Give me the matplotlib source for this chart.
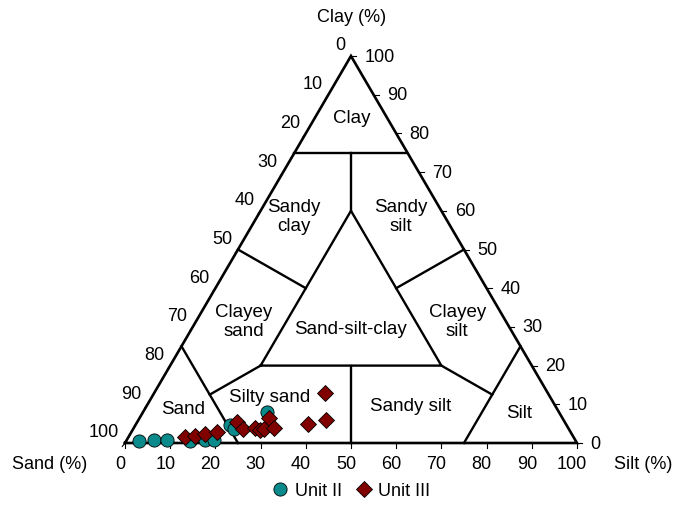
import numpy as np
import matplotlib
matplotlib.use("Agg")
import matplotlib.pyplot as plt
from matplotlib.lines import Line2D

plt.rcParams['font.family'] = ['Liberation Sans', 'DejaVu Sans']

# grain size composition (%), sand = 100 - silt - clay
unit2_silt = [2.8, 6.0, 8.9, 14.1, 17.3, 19.3, 20.9, 22.3, 27.4]
unit2_clay = [0.5, 0.8, 0.8, 0.5, 0.8, 0.8, 4.7, 3.6, 8.0]

unit3_silt = [12.5, 14.6, 16.6, 19.0, 22.1, 24.3, 26.8, 28.2, 29.0, 28.6, 31.0, 38.0, 41.5, 37.8]
unit3_clay = [1.6, 1.8, 2.3, 2.8, 5.4, 3.6, 3.9, 3.4, 3.6, 6.5, 3.9, 4.9, 5.9, 12.9]

tick_values = [0, 10, 20, 30, 40, 50, 60, 70, 80, 90, 100]

# class boundaries as (sand, silt, clay) end points
boundaries = [
    [(25, 0, 75), (0, 25, 75)],
    [(12.5, 12.5, 75), (20, 20, 60)],
    [(60, 20, 20), (20, 60, 20), (20, 20, 60), (60, 20, 20)],
    [(50, 0, 50), (40, 20, 40)],
    [(0, 50, 50), (20, 40, 40)],
    [(75, 0, 25), (75, 25, 0)],
    [(75, 12.5, 12.5), (60, 20, 20)],
    [(12.5, 75, 12.5), (20, 60, 20)],
    [(0, 75, 25), (25, 75, 0)],
    [(40, 40, 20), (50, 50, 0)],
]

class_names = ["Clay", "Sandy\nclay", "Sandy\nsilt", "Clayey\nsand", "Clayey\nsilt",
               "Sand-silt-clay", "Silty sand", "Sandy silt", "Silt", "Sand"]
class_pos = [(50.2, 84.0), (37.4, 58.7), (61.1, 58.7), (26.3, 31.5), (73.5, 31.5),
             (50.0, 29.7), (32.1, 12.1), (63.1, 9.8), (87.2, 8.0), (12.8, 8.8)]


def to_xy(silt, clay):
    silt = np.asarray(silt, dtype=float)
    clay = np.asarray(clay, dtype=float)
    return silt + clay / 2.0, clay


fig = plt.figure(figsize=(6.78, 5.06), dpi=100)
ax = fig.add_axes([0, 0, 1, 1])
ax.set_xlim(-27.65, 122.35)
ax.set_ylim(-16.02, 114.73)
ax.axis('off')

# triangle outline
ox, oy = to_xy([0, 100, 0, 0], [0, 0, 100, 0])
ax.plot(ox, oy, color='black', lw=1.9, solid_joinstyle='miter', zorder=2)

for seg in boundaries:
    bx, by = to_xy([p[1] for p in seg], [p[2] for p in seg])
    ax.plot(bx, by, color='black', lw=1.7, solid_joinstyle='miter', zorder=2)

for name, (tx, ty) in zip(class_names, class_pos):
    ax.text(tx, ty, name, ha='center', va='center', fontsize=13.5, linespacing=1.12)

fs = 13
# bottom axis: silt
for v in tick_values:
    ax.plot([v, v], [0, -1.2], color='black', lw=0.8)
    ax.text(v - 1.1, -5.2, str(v), ha='center', va='center', fontsize=fs)
# left axis: sand
for v in tick_values:
    px, py = to_xy(0, 100 - v)
    ax.plot([px, px - 0.6], [py, py - 0.9], color='black', lw=0.8)
    ax.text(px - 1.3, py + 2.85, str(v), ha='right', va='center', fontsize=fs)
# right axis: clay
for v in tick_values:
    px, py = to_xy(100 - v, v)
    ax.plot([px, px + 1.1], [py, py], color='black', lw=0.8)
    ax.text(px + 3.0, py, str(v), ha='left', va='center', fontsize=fs)

ax.text(50.2, 110.1, "Clay (%)", ha='center', va='center', fontsize=fs)
ax.text(-16.6, -5.2, "Sand (%)", ha='center', va='center', fontsize=fs)
ax.text(114.6, -5.2, "Silt (%)", ha='center', va='center', fontsize=fs)

x2, y2 = to_xy(unit2_silt, unit2_clay)
x3, y3 = to_xy(unit3_silt, unit3_clay)
ax.plot(x2, y2, 'o', ms=9.5, mfc='#0a8a8a', mec='black', mew=0.6, ls='none', zorder=3)
ax.plot(x3, y3, 'D', ms=8, mfc='#800000', mec='black', mew=0.6, ls='none', zorder=4)

handles = [
    Line2D([], [], marker='o', ms=9.5, mfc='#0a8a8a', mec='black', mew=0.6, ls='none'),
    Line2D([], [], marker='D', ms=8, mfc='#800000', mec='black', mew=0.6, ls='none'),
]
fig.legend(handles, ["Unit II", "Unit III"], loc='center', bbox_to_anchor=(0.516, 0.028),
           ncol=2, frameon=False, fontsize=fs, handletextpad=0.2, columnspacing=0.6,
           handlelength=1.2)

fig.savefig("out.png", dpi=100)
